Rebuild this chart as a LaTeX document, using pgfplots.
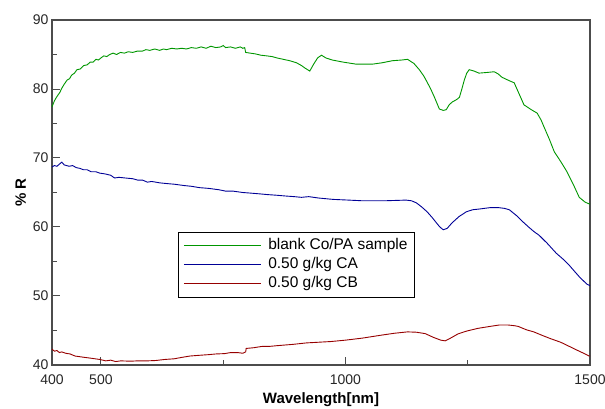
\documentclass[border=0pt]{standalone}
\usepackage{pgfplots}
\pgfplotsset{compat=1.18}
\usepackage{fontspec}
\setmainfont{Liberation Sans}
\definecolor{cgreen}{RGB}{0,150,0}
\definecolor{cblue}{RGB}{0,0,150}
\definecolor{cred}{RGB}{150,0,0}
\begin{document}
\begin{tikzpicture}
\useasboundingbox (-52pt,-44pt) rectangle (553pt,365pt);
\begin{axis}[
  scale only axis, width=538pt, height=345pt,
  xmin=400, xmax=1500, ymin=40, ymax=90,
  xtick={400,500,1000,1500}, minor xtick={750,1250},
  ytick={40,50,...,90}, minor ytick={45,55,...,85},
  xtick pos=bottom, ytick pos=left,
  tick align=inside,
  major tick length=8pt, minor tick length=5pt,
  every tick/.style={draw=black!70, line width=1pt},
  axis line style={draw=black!70, line width=1.2pt},
  /pgf/number format/assume math mode=true,
  /pgf/number format/1000 sep={},
  tick label style={font=\fontsize{14}{16}\selectfont, text=black!85},
  xticklabel style={yshift=-6pt},
  xlabel={\textbf{Wavelength[nm]}}, ylabel={\textbf{\% R}},
  label style={font=\fontsize{15}{17}\selectfont},
  xlabel style={yshift=-1pt},
  legend style={at={(rel axis cs:0.234,0.386)}, anchor=north west, draw=black, line width=0.8pt,
    font=\fontsize{15.5}{17}\selectfont, inner xsep=5pt, inner ysep=4pt, row sep=0pt, column sep=5pt,
    nodes={inner xsep=2pt, inner ysep=2.5pt, text height=11pt, text depth=3pt, anchor=west}},
  legend cell align=left,
  every axis plot/.append style={line width=0.9pt},
]
\addplot[draw=cgreen, legend image code/.code={\draw[draw=cgreen, line width=1pt] (0pt,0pt) -- (77pt,0pt);}] coordinates {
(400,77.4)(405,78.3)(410,78.9)(416,79.5)(420,80.1)(425,80.7)(431,81.3)(436,81.5)(440,82.0)(446,82.3)(451,82.8)(458,82.9)(465,83.4)(472,83.5)(478,83.9)(484,83.9)(490,84.3)(495,84.2)
(500,84.5)(506,84.8)(512,84.7)(518,85.0)(525,85.2)(532,85.0)(540,85.3)(548,85.2)(556,85.4)(565,85.3)(575,85.5)(585,85.5)(592,85.7)(600,85.6)(610,85.8)(620,85.6)(628,85.8)(634,85.7)(645,85.9)(655,85.8)(665,85.9)(675,85.8)(685,86.0)(695,85.9)(705,86.1)(715,85.9)(725,86.2)(735,86.0)(745,86.1)(750,86.3)(755,86.0)(765,86.1)(775,85.9)(785,86.1)(790,85.9)(794,86.0)
(796,85.3)(805,85.2)(815,85.1)(827,84.9)(839,84.8)(850,84.7)(860,84.5)(873,84.3)(886,84.1)(900,83.8)(910,83.4)(918,83.0)(927,82.6)(935,83.6)(943,84.5)(951,84.9)(960,84.5)(973,84.2)(995,83.9)(1022,83.6)(1055,83.6)(1075,83.8)(1096,84.1)(1115,84.2)(1127,84.3)(1140,83.7)(1151,82.8)(1160,81.9)(1167,81.0)(1175,79.9)(1182,78.8)(1192,77.1)(1200,76.9)(1206,77.0)(1212,77.7)(1218,78.1)(1228,78.5)(1233,78.8)(1238,80.0)(1243,81.3)(1248,82.3)(1253,82.8)(1263,82.6)(1273,82.3)(1290,82.4)(1304,82.5)(1312,82.2)(1320,81.7)(1335,81.2)(1345,80.9)(1355,79.3)(1365,77.7)(1380,77.0)(1392,76.5)(1400,75.5)(1406,74.5)(1417,72.7)(1427,70.9)(1440,69.5)(1453,68.0)(1465,66.3)(1478,64.3)(1490,63.6)(1500,63.3)
};
\addlegendentry{blank Co/PA sample}
\addplot[draw=cblue, legend image code/.code={\draw[draw=cblue, line width=1pt] (0pt,0pt) -- (77pt,0pt);}] coordinates {
(400,68.7)(405,68.9)(410,68.8)(415,69.1)(420,69.4)(425,69.0)(435,68.8)(442,68.9)(450,68.6)(457,68.5)(464,68.3)(472,68.3)(480,68.0)(490,68.0)(498,67.8)(508,67.7)(520,67.5)(528,67.1)(537,67.2)(550,67.1)(565,67.0)(575,66.8)(585,66.8)(595,66.5)(604,66.6)(620,66.4)(634,66.3)(650,66.2)(671,66.0)(685,65.9)(702,65.7)(720,65.6)(741,65.4)(755,65.2)(770,65.2)(790,65.0)(808,64.9)(825,64.8)(840,64.7)(860,64.6)(876,64.5)(895,64.4)(910,64.3)(925,64.4)(945,64.2)(960,64.1)(975,64.0)(1006,63.9)(1035,63.8)(1080,63.8)(1124,63.9)(1135,63.8)(1145,63.5)(1156,62.9)(1167,62.2)(1177,61.4)(1186,60.6)(1193,60.0)(1200,59.6)(1208,59.8)(1218,60.6)(1232,61.5)(1247,62.2)(1260,62.5)(1273,62.6)(1295,62.8)(1314,62.8)(1325,62.7)(1335,62.5)(1349,61.7)(1362,60.8)(1376,59.9)(1386,59.3)(1396,58.8)(1413,57.6)(1431,56.2)(1444,55.4)(1457,54.5)(1468,53.6)(1478,52.8)(1488,52.1)(1494,51.7)(1500,51.5)
};
\addlegendentry{0.50 g/kg CA}
\addplot[draw=cred, legend image code/.code={\draw[draw=cred, line width=1pt] (0pt,0pt) -- (77pt,0pt);}] coordinates {
(400,42.3)(405,42.0)(410,42.1)(415,41.8)(420,41.9)(428,41.7)(437,41.6)(447,41.3)(457,41.2)(467,41.1)(478,41.0)(488,40.9)(498,40.8)(510,40.6)(520,40.7)(530,40.5)(541,40.6)(560,40.55)(575,40.6)(595,40.6)(612,40.65)(630,40.8)(650,40.9)(665,41.1)(682,41.3)(700,41.4)(720,41.5)(735,41.6)(753,41.65)(765,41.8)(780,41.8)(790,41.7)(796,41.9)(797,42.4)(812,42.5)(830,42.7)(845,42.7)(860,42.8)(877,42.9)(894,43.0)(920,43.2)(945,43.3)(970,43.4)(1000,43.6)(1035,43.9)(1071,44.3)(1100,44.6)(1127,44.8)(1145,44.75)(1163,44.55)(1180,44.0)(1195,43.6)(1204,43.5)(1215,43.9)(1230,44.5)(1247,44.9)(1270,45.3)(1296,45.6)(1315,45.8)(1332,45.8)(1345,45.7)(1353,45.6)(1370,45.1)(1385,44.8)(1402,44.3)(1420,43.8)(1440,43.3)(1459,42.65)(1475,42.1)(1490,41.6)(1498,41.3)(1500,41.3)
};
\addlegendentry{0.50 g/kg CB}
\end{axis}
\end{tikzpicture}
\end{document}
